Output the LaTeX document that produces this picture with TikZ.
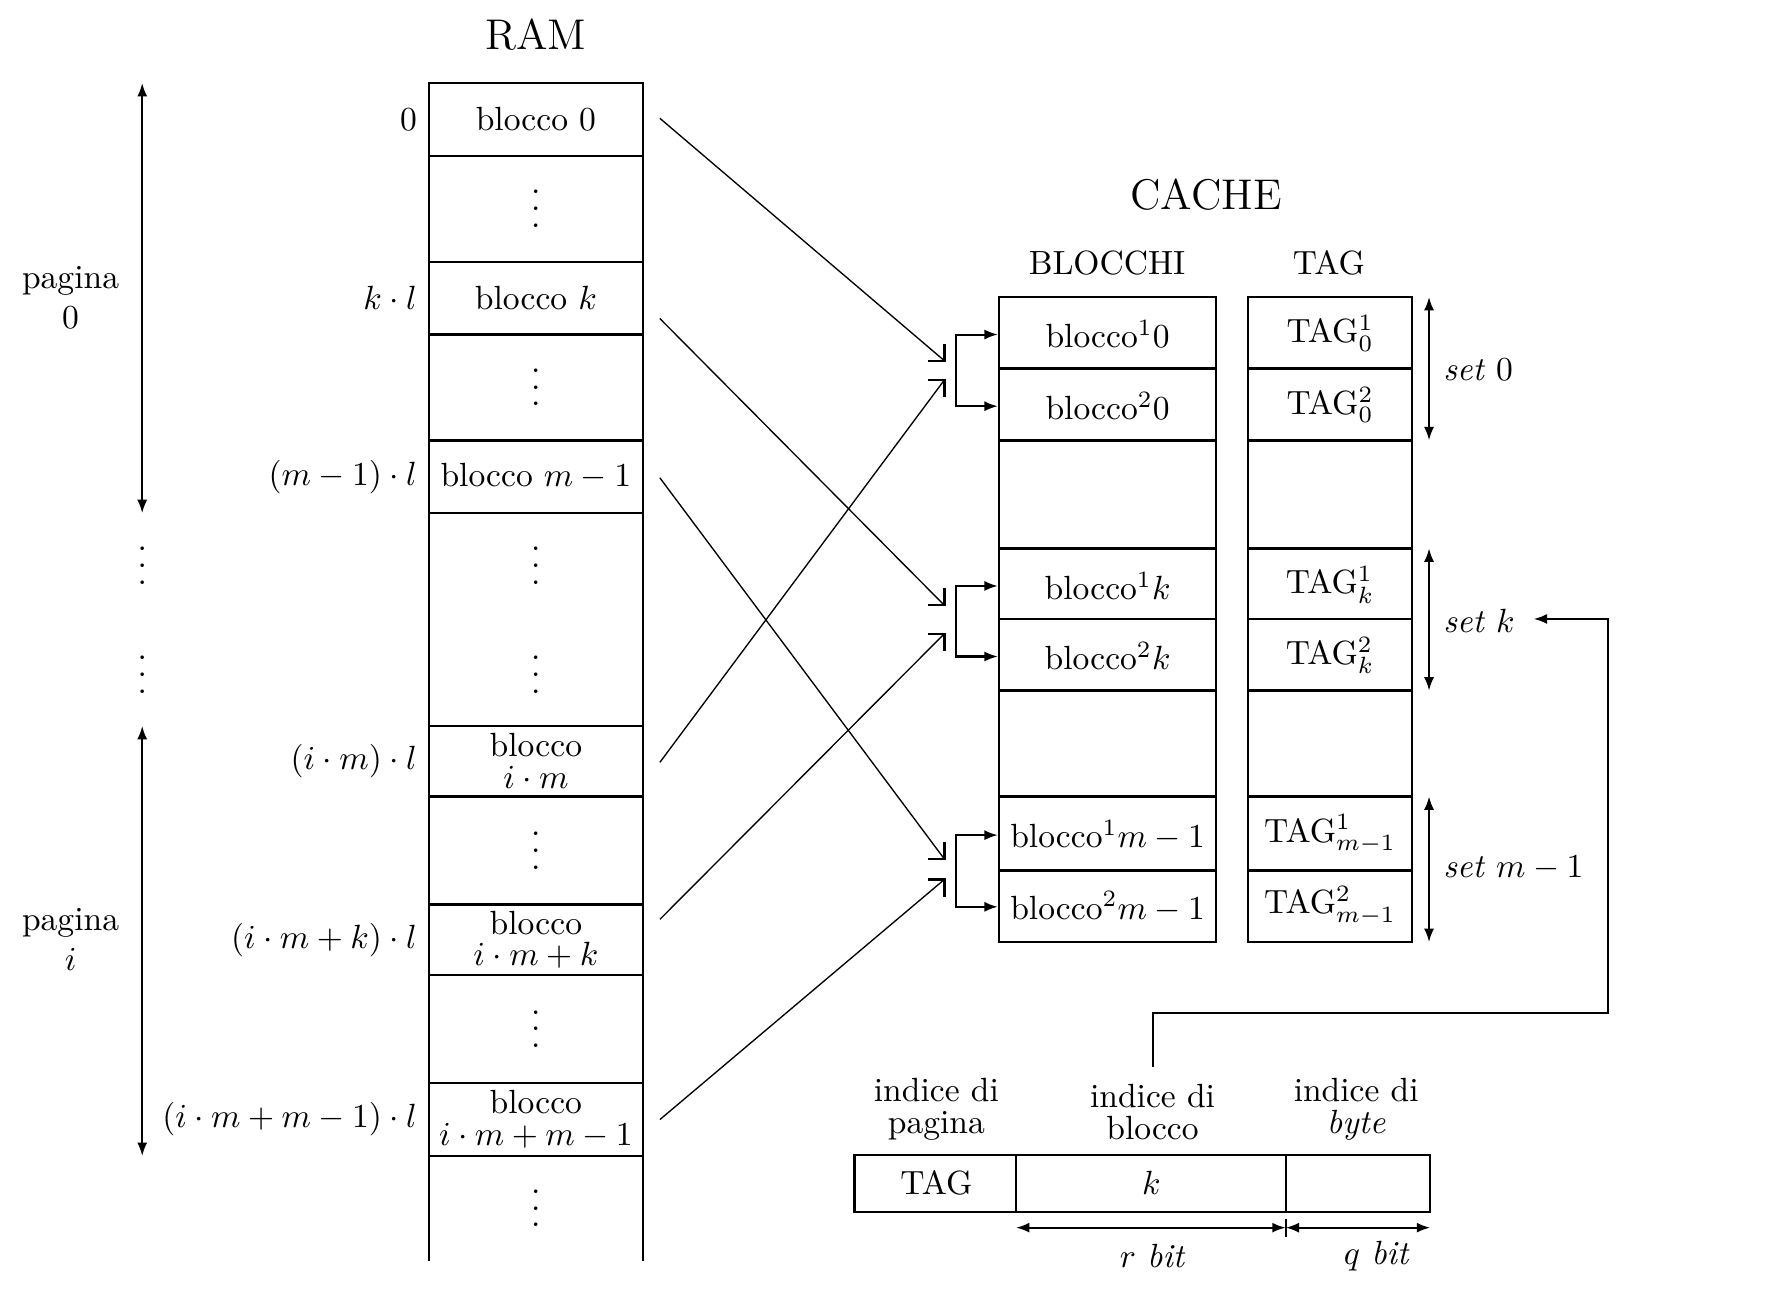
\documentclass[tikz,border=0pt]{standalone}
\usetikzlibrary{calc,arrows.meta}
\newcommand\vdts{\vbox{\baselineskip5pt\lineskiplimit0pt\hbox{.}\hbox{.}\hbox{.}}}
\begin{document}
\begin{tikzpicture}[x=0.339pt,y=-0.339pt,
  >={Latex[length=4pt,width=3pt]},
  frame/.style={line width=0.7pt},
  lbl/.style={inner sep=0pt,align=center},
  title/.style={lbl,font=\fontsize{12.8}{15}\selectfont},
  conn/.style={line width=0.4pt},
  barb/.style={line width=0.7pt},
  dim/.style={line width=0.6pt,<->},
  brk/.style={line width=0.6pt,<->}]
\useasboundingbox (0,0) rectangle (1568,1146);

% ---------------- RAM ----------------
\node[title] (ramt) at (471,30) {RAM};
\draw[frame] (377,1108) -- (377,73) -- (565,73) -- (565,1108);
\foreach \y in {137,230,294,387,451,638,700,795,857,952,1016}
  \draw[frame] (377,\y) -- (565,\y);
\node[lbl] (r0)   at (471,105)   {blocco 0};
\node[lbl] (d1)   at (471,183.5) {\vdts};
\node[lbl] (rk)   at (471,262)   {blocco $k$};
\node[lbl] (d2)   at (471,340.5) {\vdts};
\node[lbl] (rm)   at (471,419)   {blocco $m-1$};
\node[lbl] (d3a)  at (471,497)   {\vdts};
\node[lbl] (d3b)  at (471,593)   {\vdts};
\node[lbl] (rim)  at (471,669)   {blocco\\[-2.5pt]$i\cdot m$};
\node[lbl] (d4)   at (471,747.5) {\vdts};
\node[lbl] (rimk) at (471,826)   {blocco\\[-2.5pt]$i\cdot m+k$};
\node[lbl] (d5)   at (471,904.5) {\vdts};
\node[lbl] (rimm) at (471,984)   {blocco\\[-2.5pt]$i\cdot m+m-1$};
\node[lbl] (d6)   at (471,1062)  {\vdts};

% addresses
\node[lbl,anchor=east] (l0)   at (367,105) {0};
\node[lbl,anchor=east] (lk)   at (367,262) {$k\cdot l$};
\node[lbl,anchor=east] (lm)   at (367,419) {$(m-1)\cdot l$};
\node[lbl,anchor=east] (lim)  at (367,669) {$(i\cdot m)\cdot l$};
\node[lbl,anchor=east] (limk) at (367,826) {$(i\cdot m+k)\cdot l$};
\node[lbl,anchor=east] (limm) at (367,984) {$(i\cdot m+m-1)\cdot l$};

% pages
\coordinate (p0t) at (125,73);
\coordinate (p0b) at (125,451);
\coordinate (pit) at (125,638);
\coordinate (pib) at (125,1016);
\draw[dim] (p0t) -- (p0b);
\draw[dim] (pit) -- (pib);
\node[lbl] (pg0) at (62,262) {pagina\\0};
\node[lbl] (pgi) at (62,826) {pagina\\$i$};
\node[lbl] (lv1) at (125,497) {\vdts};
\node[lbl] (lv2) at (125,593) {\vdts};

% ---------------- CACHE ----------------
\node[title] (ct) at (1060,171) {CACHE};
\node[lbl] (bh) at (973,231) {BLOCCHI};
\node[lbl] (th) at (1168,231) {TAG};

\draw[frame] (878,261) rectangle (1069,828);
\draw[frame] (1097,261) rectangle (1241,828);
\foreach \y in {324,387,482,544,607,700,765} {
  \draw[frame] (878,\y) -- (1069,\y);
  \draw[frame] (1097,\y) -- (1241,\y);
}
\node[lbl] (b1) at (973.5,294)   {blocco$^1$0};
\node[lbl] (b2) at (973.5,357)   {blocco$^2$0};
\node[lbl] (b3) at (973.5,515)   {blocco$^1k$};
\node[lbl] (b4) at (973.5,577)   {blocco$^2k$};
\node[lbl] (b5) at (973.5,734)   {blocco$^1m-1$};
\node[lbl] (b6) at (973.5,797)   {blocco$^2m-1$};

\node[lbl] (t1) at (1169,293)   {TAG$^1_0$};
\node[lbl] (t2) at (1169,356)   {TAG$^2_0$};
\node[lbl] (t3) at (1169,514)   {TAG$^1_k$};
\node[lbl] (t4) at (1169,576)   {TAG$^2_k$};
\node[lbl] (t5) at (1169,733)   {TAG$^1_{m-1}$};
\node[lbl] (t6) at (1169,796)   {TAG$^2_{m-1}$};

% sets
\coordinate (s0t) at (1256,261);
\coordinate (s0b) at (1256,387);
\coordinate (skt) at (1256,482);
\coordinate (skb) at (1256,607);
\coordinate (smt) at (1256,700);
\coordinate (smb) at (1256,828);
\draw[dim] (s0t) -- (s0b);
\draw[dim] (skt) -- (skb);
\draw[dim] (smt) -- (smb);
\node[lbl,anchor=west] (set0) at (1268,325) {\textit{set} 0};
\node[lbl,anchor=west] (setk) at (1268,546) {\textit{set} $k$};
\node[lbl,anchor=west] (setm) at (1268,763) {\textit{set} $m-1$};

% brackets into sets
\coordinate (k0) at (840,324);
\coordinate (kk) at (840,544);
\coordinate (km) at (840,765);
\coordinate (i1) at (877,294);
\coordinate (i2) at (877,357);
\coordinate (i3) at (877,515);
\coordinate (i4) at (877,577);
\coordinate (i5) at (877,734);
\coordinate (i6) at (877,797);
\draw[brk] (i1) -| (k0) |- (i2);
\draw[brk] (i3) -| (kk) |- (i4);
\draw[brk] (i5) -| (km) |- (i6);

% incoming connectors
\coordinate (o0)  at (580,104);
\coordinate (ok)  at (580,280);
\coordinate (om)  at (580,420);
\coordinate (oi)  at (580,670);
\coordinate (oik) at (580,808);
\coordinate (oim) at (580,984);
\coordinate (e0a) at (830,317);
\coordinate (e0b) at (830,334);
\coordinate (eka) at (830,532);
\coordinate (ekb) at (830,557);
\coordinate (ema) at (830,755);
\coordinate (emb) at (830,773);
\draw[conn] (o0)  -- (e0a);
\draw[conn] (ok)  -- (eka);
\draw[conn] (om)  -- (ema);
\draw[conn] (oi)  -- (e0b);
\draw[conn] (oik) -- (ekb);
\draw[conn] (oim) -- (emb);
\draw[barb] ($(e0a)+(-14,0)$) -- (e0a) -- ($(e0a)+(0,-15)$);
\draw[barb] ($(eka)+(-14,0)$) -- (eka) -- ($(eka)+(0,-15)$);
\draw[barb] ($(ema)+(-14,0)$) -- (ema) -- ($(ema)+(0,-15)$);
\draw[barb] ($(e0b)+(-14,0)$) -- (e0b) -- ($(e0b)+(0,15)$);
\draw[barb] ($(ekb)+(-14,0)$) -- (ekb) -- ($(ekb)+(0,15)$);
\draw[barb] ($(emb)+(-14,0)$) -- (emb) -- ($(emb)+(0,15)$);

% ---------------- address ----------------
\draw[frame] (751,1015) rectangle (1257,1065);
\draw[frame] (893,1015) -- (893,1065);
\draw[frame] (1130,1015) -- (1130,1065);
\node[lbl] (a1) at (823,1040)  {TAG};
\node[lbl] (a2) at (1012,1040) {$k$};
\node[lbl] (ip) at (823,975)  {indice di\\[-2.5pt]pagina};
\node[lbl] (ib) at (1013,977) {indice di\\[-2.5pt]blocco};
\node[lbl] (iy) at (1192,975) {indice di\\[-2.5pt]\textit{byte}};

\coordinate (ra) at (893,1079);
\coordinate (rz) at (1130,1079);
\coordinate (qz) at (1257,1079);
\draw[dim] (ra) -- (rz);
\draw[dim] (rz) -- (qz);
\draw[line width=0.5pt] ($(rz)+(0,-8)$) -- ($(rz)+(0,8)$);
\node[lbl] (rb) at (1013,1104) {$r$ \textit{bit}};
\node[lbl] (qb) at (1210,1104) {$q$ \textit{bit}};

% feedback
\coordinate (fs) at (1013,938);
\coordinate (fb) at (1413,890);
\coordinate (fe) at (1348,544);
\draw[line width=0.6pt,->] (fs) |- (fb) |- (fe);
\end{tikzpicture}
\end{document}
